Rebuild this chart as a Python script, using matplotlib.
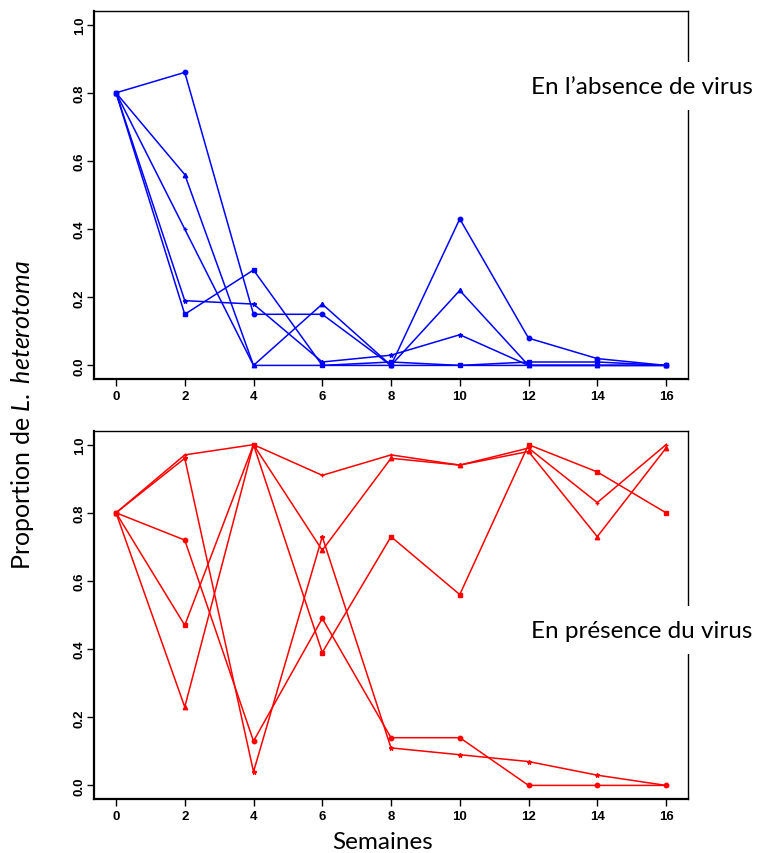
import matplotlib.pyplot as plt

##########
# Données

semaines = [0, 2, 4, 6, 8, 10, 12, 14, 16]

# En l'absence de virus (bleu)
sans_rond = [0.80, 0.86, 0.15, 0.15, 0.00, 0.43, 0.08, 0.02, 0.00]
sans_triangle = [0.80, 0.56, 0.00, 0.18, 0.00, 0.22, 0.00, 0.00, 0.00]
sans_plus = [0.80, 0.40, 0.00, 0.00, 0.00, 0.00, 0.00, 0.00, 0.00]
sans_etoile = [0.80, 0.19, 0.18, 0.01, 0.03, 0.09, 0.00, 0.00, 0.00]
sans_carre = [0.80, 0.15, 0.28, 0.00, 0.01, 0.00, 0.01, 0.01, 0.00]

# En présence du virus (rouge)
avec_carre = [0.80, 0.47, 1.00, 0.39, 0.73, 0.56, 1.00, 0.92, 0.80]
avec_plus = [0.80, 0.97, 1.00, 0.91, 0.97, 0.94, 0.99, 0.83, 1.00]
avec_triangle = [0.80, 0.23, 1.00, 0.69, 0.96, 0.94, 0.98, 0.73, 0.99]
avec_etoile = [0.80, 0.96, 0.04, 0.73, 0.11, 0.09, 0.07, 0.03, 0.00]
avec_rond = [0.80, 0.72, 0.13, 0.49, 0.14, 0.14, 0.00, 0.00, 0.00]

y_ticks = [0.0, 0.2, 0.4, 0.6, 0.8, 1.0]

##########

plt.rcParams['mathtext.fontset'] = 'custom'
plt.rcParams['mathtext.rm'] = 'Lato'
plt.rcParams['mathtext.it'] = 'Lato:italic'

fig = plt.figure(figsize=(7.6, 8.54), dpi=100)
ax1 = fig.add_axes([0.1237, 0.555, 0.7816, 0.4309])
ax2 = fig.add_axes([0.1237, 0.0632, 0.7816, 0.4309])

marqueurs = ['o', '^', '+', '*', 's']

def panneau(ax, series, couleur):
    for serie, m in zip(series, marqueurs):
        ax.plot(semaines, serie, color=couleur, lw=1.1, marker=m, markersize=3.2,
                markeredgewidth=1)
    ax.set_xlim(-0.64, 16.64)
    ax.set_ylim(-0.04, 1.04)
    ax.set_xticks(semaines)
    ax.set_yticks(y_ticks)
    ax.set_yticklabels(["%.1f" % v for v in y_ticks], rotation=90, va='center')
    ax.tick_params(length=5, width=1, labelsize=9.5)
    ax.tick_params(axis='x', pad=3)
    ax.tick_params(axis='y', pad=1)
    for lab in ax.get_xticklabels() + ax.get_yticklabels():
        lab.set_fontweight('bold')
        lab.set_family('Liberation Sans')
    ax.spines['left'].set_linewidth(1.6)
    ax.spines['bottom'].set_linewidth(1.6)
    ax.spines['top'].set_linewidth(1)
    ax.spines['right'].set_linewidth(1)

panneau(ax1, [sans_rond, sans_triangle, sans_plus, sans_etoile, sans_carre], '#0000FF')
panneau(ax2, [avec_rond, avec_triangle, avec_plus, avec_etoile, avec_carre], '#FF0000')

boite = dict(facecolor='white', edgecolor='none', boxstyle='square,pad=0.55')
fig.text(0.699, 0.898, "En l\u2019absence de virus", fontsize=17.5, family='Lato',
         ha='left', va='center', bbox=boite)
fig.text(0.699, 0.261, "En présence du virus", fontsize=17.5, family='Lato',
         ha='left', va='center', bbox=boite)

fig.text(0.029, 0.514, r"Proportion de $\mathit{L.\ heterotoma}$", fontsize=18,
         family='Lato', rotation=90, ha='center', va='center')
fig.text(0.504, 0.013, "Semaines", fontsize=17.5, family='Lato', ha='center', va='center')

plt.savefig("out.png", dpi=100)
